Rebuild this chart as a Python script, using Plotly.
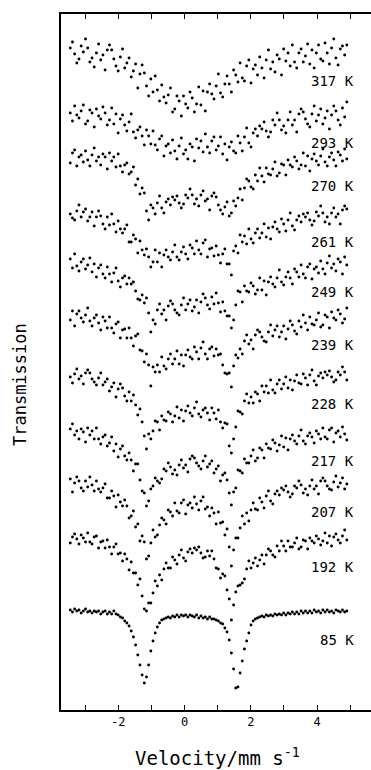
import numpy as np
import plotly.graph_objects as go

# Doppler velocity of the 128 analyser channels (mm/s)
velocity = np.linspace(-3.45, 4.90, 128)

# Sample temperatures, top to bottom of the stack
temperatures = ["317 K", "293 K", "270 K", "261 K", "249 K", "239 K",
                "228 K", "217 K", "207 K", "192 K", "85 K"]

# Vertical stacking offset of each spectrum's baseline (in % transmission)
stack_offset = [65.8, 59.6, 55.3, 49.7, 44.7, 39.4, 33.5, 27.8, 22.7, 17.2, 9.9]

# Relative transmission (%) per channel
t317 = [100.4, 101.0, 99.8, 98.9, 99.3, 100.6, 100.0, 101.3, 100.4, 99.0, 99.4, 98.5, 99.9, 100.8, 99.2, 99.7,
        98.2, 100.2, 100.7, 100.2, 99.3, 98.6, 98.1, 99.5, 100.3, 98.4, 98.9, 99.4, 97.5, 98.1, 98.8, 96.4,
        97.8, 98.7, 97.9, 96.6, 95.6, 97.3, 96.0, 97.6, 96.2, 95.1, 96.7, 95.5, 94.9, 95.7, 96.4, 94.0,
        94.3, 95.6, 95.1, 93.6, 95.6, 94.8, 94.4, 96.0, 95.4, 94.0, 94.8, 96.5, 94.7, 96.1, 94.1, 96.0,
        96.8, 95.8, 95.3, 96.6, 97.8, 95.9, 95.5, 96.8, 97.6, 96.8, 96.0, 98.2, 97.7, 97.0, 98.9, 97.4,
        97.1, 98.6, 99.2, 96.9, 98.3, 98.7, 97.7, 99.5, 98.4, 97.4, 99.2, 100.2, 98.3, 99.0, 98.0, 99.7,
        99.3, 97.7, 100.3, 99.1, 99.9, 98.6, 100.7, 99.0, 98.4, 99.9, 100.3, 99.0, 99.6, 100.8, 98.8, 100.2,
        98.4, 99.9, 100.7, 99.3, 99.1, 100.9, 99.9, 98.8, 100.4, 101.3, 99.4, 98.7, 100.3, 100.6, 99.7, 100.7]

t293 = [100.1, 99.3, 100.8, 99.9, 99.6, 100.3, 100.9, 99.0, 99.3, 100.4, 100.1, 98.7, 100.5, 99.8, 99.5, 100.7,
        100.1, 98.9, 99.4, 100.6, 99.0, 100.0, 98.1, 99.5, 99.9, 98.9, 98.3, 99.2, 100.0, 98.2, 97.6, 98.4,
        98.7, 97.8, 96.9, 98.4, 97.8, 97.0, 98.3, 96.9, 96.4, 97.5, 97.8, 95.8, 96.8, 97.0, 96.1, 97.4,
        96.3, 95.5, 96.8, 97.6, 96.0, 96.4, 95.5, 97.0, 96.7, 95.3, 97.5, 96.6, 97.3, 96.2, 98.0, 96.7,
        96.1, 97.3, 97.7, 96.4, 96.8, 97.7, 96.0, 97.0, 95.4, 96.7, 97.2, 96.3, 96.1, 97.8, 97.1, 96.3,
        97.7, 98.6, 97.1, 96.7, 98.1, 98.5, 97.8, 98.8, 98.5, 99.2, 98.3, 97.7, 98.2, 99.4, 98.9, 100.1,
        99.4, 98.4, 98.8, 98.1, 99.4, 100.2, 98.9, 99.4, 98.2, 100.0, 100.5, 100.2, 99.5, 99.0, 98.7, 100.0,
        100.8, 99.3, 99.9, 100.5, 99.0, 99.6, 100.3, 98.5, 99.9, 100.8, 100.3, 99.4, 98.9, 100.6, 99.7, 101.2]

t270 = [99.4, 100.4, 100.7, 99.1, 100.0, 100.2, 99.5, 100.6, 99.7, 99.1, 100.2, 100.9, 99.6, 100.0, 99.2, 100.3,
        100.0, 98.8, 100.4, 99.6, 100.0, 99.0, 100.3, 99.1, 98.5, 99.2, 99.4, 98.3, 98.5, 99.0, 97.2, 97.8,
        96.3, 96.9, 96.4, 94.6, 93.7, 95.2, 94.9, 94.3, 95.4, 96.1, 94.9, 94.4, 95.5, 95.8, 95.2, 96.0,
        95.7, 96.1, 95.4, 94.9, 95.3, 96.2, 95.9, 96.8, 96.2, 95.3, 95.8, 95.1, 96.2, 96.6, 95.6, 95.8,
        94.7, 96.1, 96.4, 96.0, 95.2, 94.7, 94.3, 95.0, 95.5, 94.1, 94.4, 95.6, 95.1, 95.9, 96.8, 95.7,
        96.9, 97.8, 97.6, 97.0, 96.8, 98.2, 97.6, 98.9, 98.1, 97.5, 98.9, 98.3, 98.2, 98.8, 99.5, 98.1,
        98.4, 99.3, 99.2, 98.2, 99.7, 99.2, 99.0, 100.0, 99.6, 98.8, 99.2, 100.4, 99.1, 100.1, 98.6, 99.8,
        100.3, 99.6, 99.2, 100.1, 100.8, 99.5, 99.1, 100.0, 100.4, 99.7, 99.1, 100.5, 100.2, 99.6, 100.8, 99.8]

t261 = [99.9, 99.5, 99.3, 100.2, 100.8, 99.6, 100.1, 100.4, 99.2, 99.6, 100.1, 98.7, 99.6, 100.2, 99.7, 98.9,
        98.4, 99.6, 98.8, 99.9, 98.9, 98.1, 99.2, 98.4, 98.0, 98.4, 98.8, 97.1, 97.1, 97.8, 97.4, 96.0,
        97.2, 96.3, 95.8, 96.4, 95.6, 94.6, 95.1, 96.3, 95.1, 96.0, 94.6, 95.8, 96.3, 95.6, 95.3, 96.1,
        96.8, 95.6, 95.3, 96.1, 96.6, 95.9, 95.4, 96.8, 96.5, 95.9, 97.2, 96.3, 95.9, 97.0, 97.3, 95.6,
        96.4, 96.5, 95.7, 96.7, 95.8, 95.0, 95.9, 96.4, 94.9, 94.9, 93.8, 96.2, 96.7, 96.0, 97.8, 97.1,
        97.7, 96.9, 98.4, 97.4, 97.0, 98.0, 98.4, 97.5, 98.0, 98.9, 97.6, 98.5, 97.4, 98.6, 99.1, 98.4,
        98.1, 99.4, 98.9, 98.2, 99.3, 100.0, 98.7, 98.3, 99.3, 99.7, 99.1, 99.9, 99.6, 100.0, 99.3, 98.8,
        99.2, 100.1, 99.7, 100.7, 100.0, 99.1, 99.6, 98.9, 100.0, 100.5, 99.6, 99.9, 98.9, 100.3, 100.7, 100.4]

t249 = [100.4, 99.5, 100.9, 99.7, 99.2, 100.1, 100.4, 99.4, 99.8, 100.5, 99.1, 99.9, 98.6, 99.5, 99.8, 98.9,
        98.5, 99.6, 98.9, 98.1, 99.0, 99.5, 98.2, 97.6, 98.5, 98.7, 97.9, 98.5, 97.9, 98.1, 97.2, 96.4,
        96.3, 96.8, 96.0, 96.5, 95.0, 93.1, 94.3, 93.9, 95.3, 95.9, 94.9, 95.3, 94.3, 95.7, 96.2, 95.9,
        95.3, 95.0, 94.8, 95.8, 96.5, 95.3, 95.9, 96.3, 95.2, 95.6, 96.3, 95.0, 96.1, 96.9, 96.5, 95.8,
        95.4, 96.6, 95.9, 97.0, 96.0, 95.1, 96.1, 95.2, 94.7, 94.7, 93.5, 94.3, 95.8, 97.2, 97.1, 96.1,
        97.7, 97.2, 97.1, 98.0, 97.7, 96.9, 97.3, 98.5, 97.3, 98.2, 96.8, 98.1, 98.6, 97.9, 97.6, 98.5,
        99.3, 98.1, 97.8, 98.6, 99.1, 98.5, 97.9, 99.4, 99.1, 98.6, 99.8, 98.9, 98.5, 99.6, 99.9, 98.4,
        99.4, 99.6, 99.0, 100.2, 99.4, 98.9, 100.0, 100.7, 99.5, 99.9, 99.2, 100.4, 100.1, 98.9, 100.6, 99.8]

t239 = [99.6, 100.5, 99.0, 100.2, 100.5, 99.8, 99.4, 100.1, 100.8, 99.5, 99.0, 99.8, 100.1, 99.3, 98.6, 99.9,
        99.5, 98.8, 99.9, 98.8, 98.3, 99.2, 99.4, 97.8, 98.6, 98.7, 97.8, 98.8, 97.8, 97.0, 98.0, 98.2,
        96.6, 96.5, 95.4, 96.2, 95.1, 93.0, 94.9, 94.4, 95.1, 94.4, 95.9, 95.0, 94.7, 95.7, 96.2, 95.2,
        95.7, 96.5, 95.2, 96.1, 95.0, 96.1, 96.6, 95.9, 95.7, 96.9, 96.4, 95.7, 96.8, 97.4, 96.2, 95.7,
        96.7, 96.9, 96.0, 96.7, 96.1, 96.2, 95.1, 94.3, 94.2, 94.3, 92.9, 95.0, 96.1, 95.8, 96.7, 96.2,
        97.5, 98.1, 97.2, 97.6, 96.7, 98.1, 98.6, 98.4, 97.9, 97.5, 97.4, 98.4, 99.1, 98.0, 98.6, 99.0,
        97.9, 98.4, 99.0, 97.7, 98.7, 99.5, 99.1, 98.5, 98.2, 99.5, 98.9, 100.1, 99.3, 98.6, 99.9, 99.2,
        99.1, 99.6, 100.3, 98.9, 99.1, 100.1, 99.9, 98.8, 100.4, 99.8, 99.6, 100.6, 100.2, 99.3, 99.7, 100.8]

t228 = [99.8, 99.2, 100.1, 100.6, 99.6, 99.9, 99.1, 100.2, 100.5, 100.2, 99.6, 99.3, 99.0, 99.7, 100.2, 99.0,
        99.3, 99.6, 98.4, 98.8, 99.2, 97.8, 98.6, 99.1, 98.7, 97.9, 97.4, 98.3, 97.4, 98.0, 97.0, 96.0,
        96.6, 95.3, 93.9, 92.6, 94.1, 93.6, 94.4, 95.4, 95.3, 94.5, 95.9, 95.5, 95.4, 96.3, 96.1, 95.3,
        95.9, 96.8, 95.7, 96.5, 95.4, 96.4, 96.9, 96.2, 95.9, 96.7, 97.3, 96.1, 95.8, 96.5, 96.7, 96.2,
        95.5, 96.7, 96.2, 95.6, 96.5, 95.3, 94.7, 95.2, 95.1, 92.9, 92.2, 93.6, 94.8, 96.4, 96.3, 96.1,
        97.4, 98.1, 97.2, 97.8, 97.2, 98.3, 98.1, 97.4, 98.9, 98.3, 98.9, 98.2, 99.5, 98.5, 98.2, 99.1,
        99.5, 98.6, 99.1, 99.8, 98.7, 99.5, 98.5, 99.4, 100.0, 99.2, 99.1, 100.1, 99.7, 99.0, 100.0, 100.5,
        99.4, 99.0, 99.9, 100.2, 99.7, 100.3, 100.0, 100.4, 99.8, 99.3, 99.5, 100.3, 100.0, 100.8, 100.3, 99.5]

t217 = [100.3, 100.8, 99.7, 100.1, 99.3, 100.3, 100.0, 99.0, 100.4, 99.7, 100.1, 99.3, 100.4, 99.3, 98.8, 99.5,
        99.7, 98.6, 98.9, 99.5, 98.1, 98.8, 97.5, 98.3, 98.6, 97.6, 97.2, 97.9, 97.2, 96.1, 96.8, 96.8,
        95.2, 94.1, 93.9, 92.6, 93.1, 94.3, 94.6, 95.4, 95.1, 94.9, 95.3, 96.3, 96.1, 96.9, 96.5, 95.8,
        96.2, 95.7, 96.7, 97.2, 96.4, 96.7, 96.0, 97.3, 97.6, 97.4, 96.9, 96.6, 96.3, 97.1, 97.6, 96.5,
        96.8, 97.1, 95.9, 96.3, 96.6, 95.1, 95.7, 95.9, 95.2, 93.9, 92.7, 94.0, 94.4, 96.2, 96.1, 95.9,
        97.3, 96.9, 96.9, 97.6, 98.2, 97.1, 97.4, 98.4, 98.2, 97.4, 98.8, 98.4, 98.3, 99.2, 98.9, 98.1,
        98.7, 99.6, 98.5, 99.4, 98.2, 99.3, 99.7, 99.1, 98.8, 99.6, 100.2, 99.1, 98.8, 99.6, 99.9, 99.5,
        98.9, 100.1, 99.8, 99.3, 100.4, 99.5, 99.3, 100.2, 100.4, 99.0, 99.9, 100.1, 99.5, 100.5, 99.8, 99.2]

t207 = [100.4, 99.1, 100.0, 100.6, 100.2, 99.5, 99.2, 100.2, 99.6, 100.6, 99.8, 99.2, 100.2, 99.4, 99.1, 99.5,
        99.9, 98.5, 98.5, 99.2, 98.7, 97.6, 98.8, 98.1, 97.7, 98.3, 97.7, 96.5, 96.7, 97.2, 95.6, 95.9,
        94.2, 94.7, 94.1, 92.4, 92.7, 94.0, 95.3, 94.6, 94.8, 95.8, 96.5, 96.3, 95.9, 97.3, 97.1, 96.7,
        98.0, 97.2, 97.0, 98.0, 98.3, 96.9, 97.8, 98.0, 97.5, 98.6, 97.9, 97.3, 98.2, 98.6, 97.4, 97.6,
        96.7, 97.5, 97.0, 95.9, 97.1, 96.0, 96.1, 94.8, 95.4, 93.6, 91.7, 93.3, 94.5, 94.5, 95.5, 96.7,
        95.9, 97.0, 96.2, 97.3, 98.0, 97.4, 97.3, 98.5, 98.1, 97.5, 98.7, 99.2, 98.2, 97.9, 98.9, 99.2,
        98.8, 99.5, 99.3, 99.7, 99.1, 98.6, 98.9, 99.7, 99.5, 100.2, 99.8, 99.0, 99.4, 98.8, 99.7, 100.3,
        99.4, 99.7, 98.9, 100.2, 100.5, 100.2, 99.7, 99.4, 99.3, 100.1, 100.7, 99.6, 100.0, 100.5, 99.4, 99.9]

t192 = [99.5, 100.1, 100.4, 99.9, 99.4, 100.3, 100.0, 99.6, 100.5, 99.6, 99.4, 100.1, 100.2, 99.0, 99.6, 99.7,
        99.0, 99.8, 99.1, 98.4, 99.1, 99.4, 98.4, 98.5, 97.7, 98.4, 97.9, 96.8, 97.6, 96.5, 96.5, 95.3,
        95.9, 94.2, 92.9, 92.7, 93.5, 93.5, 94.5, 95.7, 95.2, 96.3, 95.8, 96.9, 97.5, 97.0, 97.0, 98.1,
        97.8, 97.4, 98.3, 98.8, 98.0, 97.7, 98.6, 98.9, 98.5, 99.0, 98.8, 99.1, 98.5, 98.0, 98.1, 98.7,
        98.2, 98.7, 97.9, 97.0, 96.9, 96.0, 96.4, 96.2, 94.8, 93.9, 91.8, 93.3, 94.6, 95.2, 95.3, 95.5,
        95.9, 96.9, 97.7, 97.0, 97.5, 98.0, 97.2, 97.8, 98.3, 97.4, 98.3, 98.9, 98.7, 98.3, 98.1, 99.2,
        98.7, 99.7, 99.2, 98.7, 99.7, 99.1, 99.1, 99.5, 100.0, 98.9, 99.1, 99.8, 99.7, 98.9, 100.0, 99.7,
        99.5, 100.2, 99.9, 99.3, 99.7, 100.5, 99.5, 100.2, 99.2, 100.1, 100.4, 99.8, 99.5, 100.2, 100.8, 99.8]

t85 = [100.1, 99.9, 100.2, 100.0, 100.1, 99.8, 100.0, 100.2, 99.9, 100.0, 99.8, 100.0, 99.9, 100.0, 99.7, 99.9,
       100.0, 99.7, 99.9, 99.7, 100.0, 99.7, 99.6, 99.4, 99.3, 99.0, 98.8, 98.5, 98.0, 97.4, 96.6, 95.6,
       94.6, 93.6, 92.8, 93.4, 94.6, 96.0, 97.0, 97.8, 98.4, 98.8, 99.1, 99.2, 99.3, 99.4, 99.3, 99.5,
       99.4, 99.6, 99.4, 99.6, 99.5, 99.6, 99.4, 99.6, 99.5, 99.4, 99.6, 99.3, 99.5, 99.3, 99.4, 99.2,
       99.4, 99.2, 99.2, 99.1, 99.0, 98.8, 98.7, 98.3, 97.9, 97.1, 95.8, 94.2, 92.3, 92.4, 93.8, 95.0,
       96.2, 97.0, 97.8, 98.6, 99.0, 99.2, 99.3, 99.4, 99.5, 99.4, 99.6, 99.5, 99.6, 99.5, 99.7, 99.6,
       99.7, 99.6, 99.8, 99.6, 99.8, 99.7, 99.9, 99.7, 99.9, 99.7, 100.0, 99.8, 100.0, 99.8, 100.0, 99.8,
       100.1, 99.9, 100.0, 99.8, 100.1, 99.9, 100.1, 99.9, 100.0, 99.8, 100.1, 100.0, 99.9, 100.1, 99.9, 100.0]

spectra = [t317, t293, t270, t261, t249, t239, t228, t217, t207, t192, t85]

# Velocity axis ticks
tick_values = [-3, -2, -1, 0, 1, 2, 3, 4, 5]
tick_labels = ["", "-2", "", "0", "", "2", "", "4", ""]

MONO = "DejaVu Sans Mono"

fig = go.Figure()

for label, trans, offset in zip(temperatures, spectra, stack_offset):
    y = offset + (np.asarray(trans) - 100.0)
    fig.add_trace(go.Scatter(
        x=velocity, y=y, mode="markers",
        marker=dict(size=2.9, color="black", line=dict(width=0)),
        hoverinfo="skip", showlegend=False,
    ))
    fig.add_annotation(
        x=5.17, y=offset - 2.9, xref="x", yref="y",
        text=label, showarrow=False, xanchor="right", yanchor="middle",
        font=dict(family=MONO, size=14, color="black"),
    )

# Axis titles
fig.add_annotation(
    x=0.506, y=-0.068, xref="paper", yref="paper",
    text="Velocity/mm s<sup>-1</sup>", showarrow=False,
    xanchor="center", yanchor="middle",
    font=dict(family=MONO, size=19, color="black"),
)
fig.add_annotation(
    x=-0.132, y=0.467, xref="paper", yref="paper",
    text="Transmission", showarrow=False, textangle=-90,
    xanchor="center", yanchor="middle",
    font=dict(family=MONO, size=17, color="black"),
)

fig.update_xaxes(
    range=[-3.73, 5.63],
    showgrid=False, zeroline=False,
    showline=True, linecolor="black", linewidth=1.6, mirror="ticks",
    ticks="inside", ticklen=5, tickwidth=1.3, tickcolor="black",
    tickvals=tick_values, ticktext=tick_labels,
    tickfont=dict(family=MONO, size=12, color="black"),
)
fig.update_yaxes(
    range=[0, 69.6],
    showgrid=False, zeroline=False,
    showline=True, linecolor="black", linewidth=1.6, mirror=False,
    ticks="", showticklabels=False,
)

fig.update_layout(
    width=371, height=770,
    margin=dict(l=61, r=0, t=14, b=60),
    paper_bgcolor="white", plot_bgcolor="white",
)

fig.write_html("out.html")
